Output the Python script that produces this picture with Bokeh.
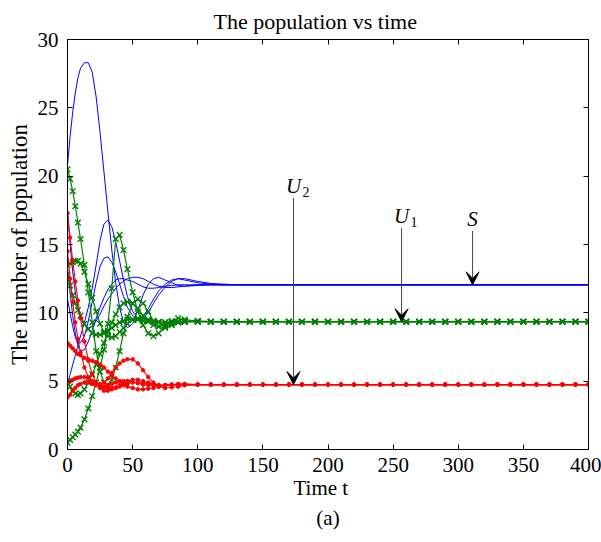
from bokeh.plotting import figure
from bokeh.models import Label, Arrow, VeeHead, LinearAxis, FixedTicker, ColumnDataSource, Title
from bokeh.embed import file_html
from bokeh.resources import INLINE

# ---------------- data ----------------
T_TRANS = [0, 2, 4, 6, 8, 10, 13, 16, 19, 22, 25, 28, 31, 34, 37, 40, 43, 46,
           50, 54, 58, 62, 66, 70, 75, 80, 85, 90, 100, 110, 120, 130]
T_TAIL = [140, 150, 160, 170, 180, 190, 200, 210, 220, 230, 240, 250, 260, 270,
          280, 290, 300, 310, 320, 330, 340, 350, 360, 370, 380, 390, 400]

S_END, U1_END, U2_END = 12.05, 9.35, 4.75

S1 = [20.8, 22.9, 24.7, 26.1, 27.2, 27.9, 28.3, 28.3, 27.6, 25.8, 23.2, 20.3, 17.4, 14.6, 12.2, 10.4,
      9.3, 8.9, 9.2, 10.2, 11.3, 12.1, 12.5, 12.6, 12.4, 12.2, 12.0, 11.95, 12.0, 12.05, 12.05, 12.05]
S2 = [4.8, 5.5, 6.2, 6.9, 7.6, 8.3, 9.3, 10.4, 11.8, 13.5, 15.3, 16.5, 16.8, 16.3, 15.2, 13.8,
      12.4, 11.2, 10.1, 9.6, 9.7, 10.3, 11.0, 11.6, 12.1, 12.4, 12.5, 12.4, 12.2, 12.1, 12.05, 12.05]
S3 = [13.3, 11.5, 9.8, 8.5, 7.6, 7.2, 7.3, 7.9, 8.7, 9.6, 10.4, 11.1, 11.7, 12.1, 12.4, 12.5,
      12.5, 12.4, 12.3, 12.1, 11.9, 11.8, 11.8, 11.85, 11.95, 12.0, 12.05, 12.05, 12.05, 12.05, 12.05, 12.05]
S4 = [17.5, 15.0, 13.0, 11.5, 10.4, 9.7, 9.1, 8.9, 9.0, 9.4, 9.9, 10.5, 11.0, 11.4, 11.8, 12.1,
      12.3, 12.5, 12.6, 12.6, 12.5, 12.3, 12.1, 11.95, 11.85, 11.85, 11.9, 11.95, 12.05, 12.05, 12.05, 12.05]
S5 = [11.0, 10.0, 9.0, 8.2, 7.8, 7.8, 8.3, 9.4, 10.8, 12.2, 13.4, 14.0, 14.1, 13.7, 13.0, 12.1,
      11.2, 10.4, 9.8, 9.5, 9.6, 10.0, 10.7, 11.3, 11.9, 12.3, 12.5, 12.5, 12.3, 12.15, 12.1, 12.05]

G1 = [20.5, 19.8, 18.9, 17.8, 16.6, 15.4, 13.5, 11.5, 9.3, 7.2, 5.7, 4.9, 4.7, 5.1, 6.0, 7.2,
      8.5, 9.7, 10.7, 11.0, 10.7, 10.1, 9.4, 9.0, 8.9, 9.1, 9.3, 9.4, 9.4, 9.35, 9.35, 9.35]
G2 = [0.5, 0.7, 0.9, 1.1, 1.3, 1.6, 2.2, 3.0, 3.9, 4.9, 6.0, 7.3, 9.2, 11.8, 15.4, 15.7,
      14.6, 13.2, 11.5, 10.1, 9.1, 8.5, 8.3, 8.5, 9.0, 9.4, 9.6, 9.5, 9.4, 9.35, 9.35, 9.35]
G3 = [13.5, 13.6, 13.7, 13.8, 13.8, 13.6, 13.0, 12.1, 11.1, 10.1, 9.2, 8.6, 8.3, 8.2, 8.3, 8.6,
      8.9, 9.2, 9.5, 9.6, 9.6, 9.5, 9.4, 9.35, 9.3, 9.3, 9.35, 9.35, 9.35, 9.35, 9.35, 9.35]
G4 = [5.0, 4.6, 4.3, 4.1, 4.0, 4.1, 4.4, 4.9, 5.5, 6.2, 7.0, 7.8, 8.6, 9.3, 9.9, 10.4,
      10.7, 10.8, 10.7, 10.3, 9.8, 9.4, 9.1, 9.0, 9.1, 9.2, 9.3, 9.35, 9.35, 9.35, 9.35, 9.35]
G5 = [12.8, 12.0, 11.3, 10.7, 10.2, 9.8, 9.2, 8.8, 8.5, 8.4, 8.4, 8.5, 8.7, 8.9, 9.1, 9.3,
      9.4, 9.5, 9.5, 9.5, 9.4, 9.35, 9.3, 9.3, 9.3, 9.35, 9.35, 9.35, 9.35, 9.35, 9.35, 9.35]

R1 = [17.3, 15.5, 13.8, 12.3, 10.9, 9.6, 7.9, 6.5, 5.5, 4.9, 4.5, 4.3, 4.3, 4.4, 4.5, 4.7,
      4.9, 5.0, 5.1, 5.1, 5.0, 4.9, 4.8, 4.7, 4.7, 4.7, 4.75, 4.75, 4.75, 4.75, 4.75, 4.75]
R2 = [7.8, 7.6, 7.4, 7.2, 7.0, 6.9, 6.7, 6.6, 6.5, 6.4, 6.2, 6.0, 5.7, 5.4, 5.2, 5.0,
      4.8, 4.6, 4.5, 4.4, 4.4, 4.45, 4.5, 4.6, 4.7, 4.75, 4.8, 4.8, 4.75, 4.75, 4.75, 4.75]
R3 = [3.8, 4.0, 4.3, 4.5, 4.7, 4.8, 4.9, 4.9, 4.8, 4.8, 4.8, 4.9, 5.2, 5.6, 6.0, 6.3,
      6.5, 6.6, 6.6, 6.3, 5.8, 5.3, 4.9, 4.6, 4.5, 4.55, 4.6, 4.7, 4.75, 4.75, 4.75, 4.75]
R4 = [14.5, 12.5, 10.8, 9.3, 8.1, 7.1, 6.0, 5.3, 4.9, 4.7, 4.6, 4.6, 4.7, 4.8, 4.9, 5.0,
      5.0, 5.0, 4.95, 4.85, 4.75, 4.7, 4.7, 4.7, 4.72, 4.75, 4.75, 4.75, 4.75, 4.75, 4.75, 4.75]
R5 = [4.9, 5.0, 5.1, 5.2, 5.25, 5.3, 5.3, 5.2, 5.0, 4.8, 4.65, 4.55, 4.5, 4.5, 4.55, 4.6,
      4.7, 4.8, 4.9, 4.9, 4.85, 4.8, 4.75, 4.7, 4.7, 4.72, 4.75, 4.75, 4.75, 4.75, 4.75, 4.75]

X_TICKS = [0, 50, 100, 150, 200, 250, 300, 350, 400]
Y_TICKS = [0, 5, 10, 15, 20, 25, 30]

TITLE = "The population vs time"
X_LABEL = "Time t"
Y_LABEL = "The number of population"
CAPTION = "(a)"

# annotation arrows: (name, subscript, x, label y, arrow start y, target value)
ANNOT = [("U", "2", 173.5, 19.3, 18.4, U2_END),
         ("U", "1", 256.5, 17.1, 16.2, U1_END),
         ("S", "", 311.0, 16.9, 16.0, S_END)]

# ---------------- figure ----------------
SERIF = "Liberation Serif"
FS = "21px"

p = figure(width=601, height=542, x_range=(0, 400), y_range=(0, 30),
           output_backend="svg", toolbar_location=None,
           min_border_left=67, min_border_right=13, min_border_top=39, min_border_bottom=93)
p.grid.visible = False
p.outline_line_color = "black"
p.background_fill_color = "white"
p.border_fill_color = "white"

p.title.text = TITLE
p.title.align = "left"
p.title.offset = 146
p.title.vertical_align = "top"
p.title.text_font = SERIF
p.title.text_font_size = "22px"
p.title.text_font_style = "normal"
p.title.text_color = "black"
p.title.standoff = 8


def style_axis(ax, ticks, labels=True, standoff=8):
    ax.ticker = FixedTicker(ticks=ticks)
    ax.major_tick_in = 5
    ax.major_tick_out = 0
    ax.minor_tick_line_color = None
    ax.axis_line_color = "black"
    ax.major_tick_line_color = "black"
    ax.major_label_text_font = SERIF
    ax.major_label_standoff = standoff
    if labels:
        ax.major_label_text_font_size = FS
        ax.major_label_text_color = "black"
    else:
        ax.major_label_text_font_size = "1px"
        ax.major_label_text_color = None


style_axis(p.xaxis[0], X_TICKS, True, 8)
style_axis(p.yaxis[0], Y_TICKS, True, 9)
p.yaxis[0].axis_label = Y_LABEL
p.yaxis[0].axis_label_text_font = SERIF
p.yaxis[0].axis_label_text_font_size = "23px"
p.yaxis[0].axis_label_text_font_style = "normal"
p.yaxis[0].axis_label_text_color = "black"
p.yaxis[0].axis_label_standoff = 3

top = LinearAxis()
style_axis(top, X_TICKS, False, 0)
p.add_layout(top, "above")
right = LinearAxis()
style_axis(right, Y_TICKS, False, 0)
p.add_layout(right, "right")

p.add_layout(Title(text=X_LABEL, align="left", offset=226, vertical_align="top",
                   text_font=SERIF, text_font_size=FS, text_font_style="normal",
                   text_color="black", standoff=2), "below")
p.add_layout(Title(text=CAPTION, align="center", vertical_align="top",
                   text_font=SERIF, text_font_size=FS, text_font_style="normal",
                   text_color="black", standoff=6), "below")

T_ALL = T_TRANS + T_TAIL


def src(vals, end):
    return ColumnDataSource(dict(t=T_ALL, v=vals + [end] * len(T_TAIL)))


for s in (S1, S2, S3, S4, S5):
    p.line("t", "v", source=src(s, S_END), line_color="#0000ff", line_width=1)

for g in (G1, G2, G3, G4, G5):
    d = src(g, U1_END)
    p.line("t", "v", source=d, line_color="#008000", line_width=1.2)
    p.scatter("t", "v", source=d, marker="x", size=8, line_color="#008000", line_width=1.4)

for r in (R1, R2, R3, R4, R5):
    d = src(r, U2_END)
    p.line("t", "v", source=d, line_color="#ff0000", line_width=1.1)
    p.scatter("t", "v", source=d, marker="circle", size=3.5, fill_color="#ff0000", line_color="#ff0000")

# arrows and their labels
for name, sub, x, ly, y0, y1 in ANNOT:
    p.add_layout(Arrow(end=VeeHead(size=13, fill_color="black", line_color="black", line_width=1),
                       x_start=x, y_start=y0, x_end=x, y_end=y1,
                       line_color="#444444", line_width=1))
    p.add_layout(Label(x=x, y=ly, text=name, text_font=SERIF, text_font_size=FS,
                       text_font_style="italic", text_align="center", text_baseline="middle",
                       text_color="black"))
    if sub:
        p.add_layout(Label(x=x, y=ly, x_offset=9, y_offset=-6, text=sub, text_font=SERIF,
                           text_font_size="14px", text_align="left", text_baseline="middle",
                           text_color="black"))

open("out.html", "w").write(file_html(p, INLINE))
